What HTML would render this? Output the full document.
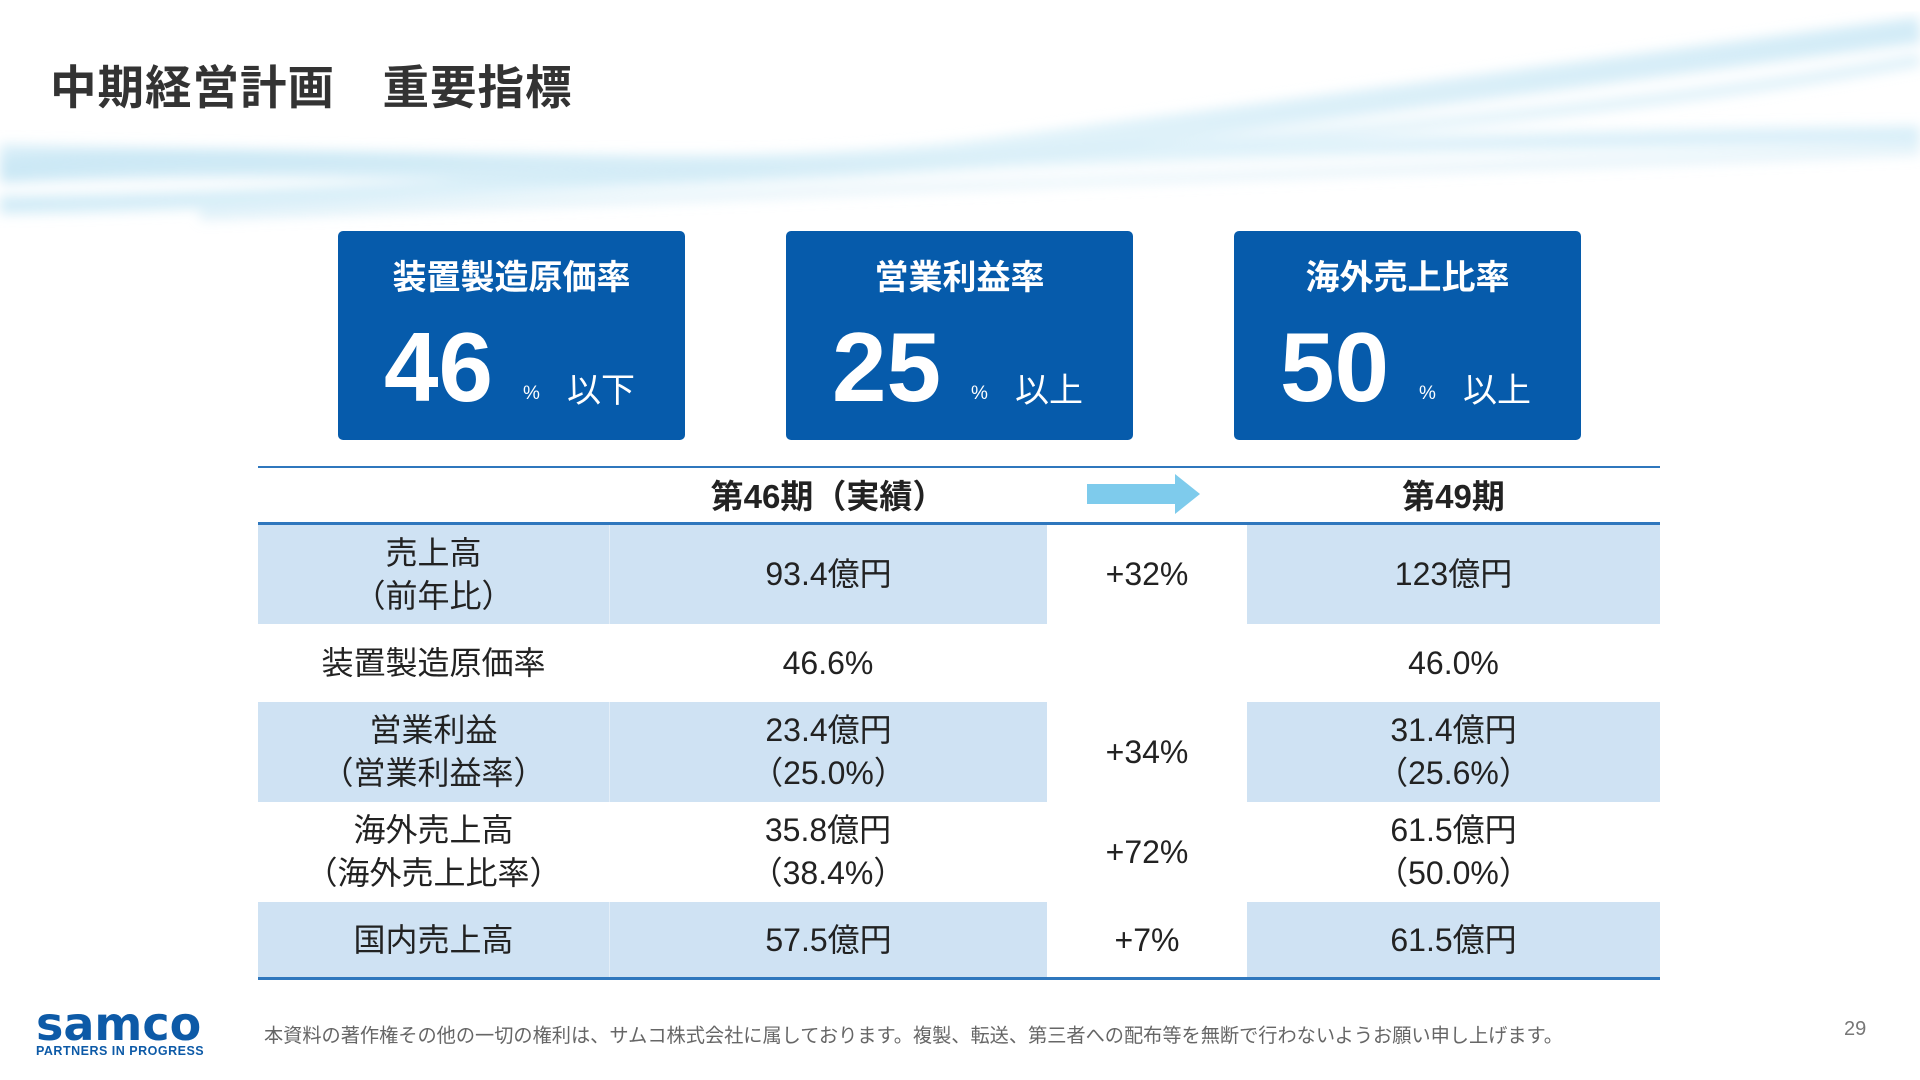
<!DOCTYPE html>
<html><head><meta charset="utf-8"><style>
*{margin:0;padding:0;box-sizing:border-box}
body{width:1920px;height:1080px;position:relative;background:#fff;font-family:"Liberation Sans","Noto Sans CJK JP",sans-serif;overflow:hidden;color:#222}
.abs{position:absolute}
.title{left:50px;top:51px;font-size:46.5px;font-weight:bold;color:#333;letter-spacing:1px;white-space:pre}
.box{position:absolute;top:231px;width:347px;height:209px;background:#065bab;border-radius:5px;color:#fff}
.box .bt{position:absolute;top:19px;left:0;width:100%;text-align:center;font-size:34px;font-weight:bold}
.big{position:absolute;left:46px;top:87px;font-size:98px;font-weight:bold;line-height:1}
.pct{position:absolute;left:185px;top:152px;font-size:19px}
.unit{position:absolute;left:229px;top:132px;font-size:34px}
.cell{position:absolute;display:flex;align-items:center;justify-content:center;text-align:center;font-size:32px;line-height:43px}
.shade{background:#cfe2f3}
.hl{position:absolute;left:258px;width:1402px;background:#2f77bd}
.foot{left:264px;top:1020px;font-size:19.2px;color:#666}
</style></head><body>
<svg class="abs" style="left:0;top:0" width="1920" height="260">
<defs><filter id="b"><feGaussianBlur stdDeviation="6"/></filter>
<linearGradient id="g" x1="0" x2="1"><stop offset="0" stop-color="#bfe3f3"/><stop offset="0.5" stop-color="#d9eff8"/><stop offset="1" stop-color="#c8e7f5"/></linearGradient></defs>
<g filter="url(#b)" fill="none" stroke="url(#g)">
<path d="M0,170 C400,150 700,190 1000,150 C1300,110 1600,70 1920,30" stroke-width="26" opacity="0.8"/>
<path d="M0,205 C300,200 600,180 900,165 C1200,150 1500,140 1920,135" stroke-width="18" opacity="0.7"/>
<path d="M0,150 C500,160 800,170 1100,150 C1400,130 1700,100 1920,60" stroke-width="12" opacity="0.6"/>
<path d="M200,215 C600,200 1000,180 1920,150" stroke-width="10" opacity="0.5"/>
</g></svg>
<div class="abs title">中期経営計画　重要指標</div>

<div class="box" style="left:338px">
<div class="bt">装置製造原価率</div><div class="big">46</div><div class="pct">%</div><div class="unit">以下</div></div>
<div class="box" style="left:786px">
<div class="bt">営業利益率</div><div class="big">25</div><div class="pct">%</div><div class="unit">以上</div></div>
<div class="box" style="left:1234px">
<div class="bt">海外売上比率</div><div class="big">50</div><div class="pct">%</div><div class="unit">以上</div></div>

<div class="hl" style="top:466px;height:2px"></div>
<div class="cell" style="left:609px;top:468px;width:438px;height:56px;font-weight:bold;font-size:33px">第46期（実績）</div>
<svg class="abs" style="left:1087px;top:474px" width="114" height="40"><polygon points="0,10 88,10 88,0 113,20 88,40 88,30 0,30" fill="#7ecbec"/></svg>
<div class="cell" style="left:1247px;top:468px;width:413px;height:56px;font-weight:bold;font-size:33px">第49期</div>
<div class="hl" style="top:522px;height:3px"></div>

<div class="cell shade" style="left:258px;top:525px;width:351px;height:99px">売上高<br>（前年比）</div>
<div class="cell shade" style="left:609px;top:525px;width:438px;height:99px;border-left:1px solid #e3eef8">93.4億円</div>
<div class="cell" style="left:1047px;top:525px;width:200px;height:99px">+32%</div>
<div class="cell shade" style="left:1247px;top:525px;width:413px;height:99px">123億円</div>

<div class="cell" style="left:258px;top:624px;width:351px;height:78px">装置製造原価率</div>
<div class="cell" style="left:609px;top:624px;width:438px;height:78px">46.6%</div>
<div class="cell" style="left:1247px;top:624px;width:413px;height:78px">46.0%</div>

<div class="cell shade" style="left:258px;top:702px;width:351px;height:100px">営業利益<br>（営業利益率）</div>
<div class="cell shade" style="left:609px;top:702px;width:438px;height:100px;border-left:1px solid #e3eef8">23.4億円<br>（25.0%）</div>
<div class="cell" style="left:1047px;top:702px;width:200px;height:100px">+34%</div>
<div class="cell shade" style="left:1247px;top:702px;width:413px;height:100px">31.4億円<br>（25.6%）</div>

<div class="cell" style="left:258px;top:802px;width:351px;height:100px">海外売上高<br>（海外売上比率）</div>
<div class="cell" style="left:609px;top:802px;width:438px;height:100px">35.8億円<br>（38.4%）</div>
<div class="cell" style="left:1047px;top:802px;width:200px;height:100px">+72%</div>
<div class="cell" style="left:1247px;top:802px;width:413px;height:100px">61.5億円<br>（50.0%）</div>

<div class="cell shade" style="left:258px;top:902px;width:351px;height:76px">国内売上高</div>
<div class="cell shade" style="left:609px;top:902px;width:438px;height:76px;border-left:1px solid #e3eef8">57.5億円</div>
<div class="cell" style="left:1047px;top:902px;width:200px;height:76px">+7%</div>
<div class="cell shade" style="left:1247px;top:902px;width:413px;height:76px">61.5億円</div>
<div class="hl" style="top:977px;height:3px"></div>

<div class="abs" style="left:36px;top:1004px;color:#0d5aa7">
<div style="font-size:46px;font-weight:900;line-height:40px;letter-spacing:0px;font-family:'DejaVu Sans',sans-serif">samco</div>
<div style="font-size:12.5px;font-weight:bold;line-height:14px;letter-spacing:0.5px">PARTNERS IN PROGRESS</div></div>
<div class="abs foot">本資料の著作権その他の一切の権利は、サムコ株式会社に属しております。複製、転送、第三者への配布等を無断で行わないようお願い申し上げます。</div>
<div class="abs" style="left:1844px;top:1018px;font-size:20px;color:#777">29</div>
</body></html>
